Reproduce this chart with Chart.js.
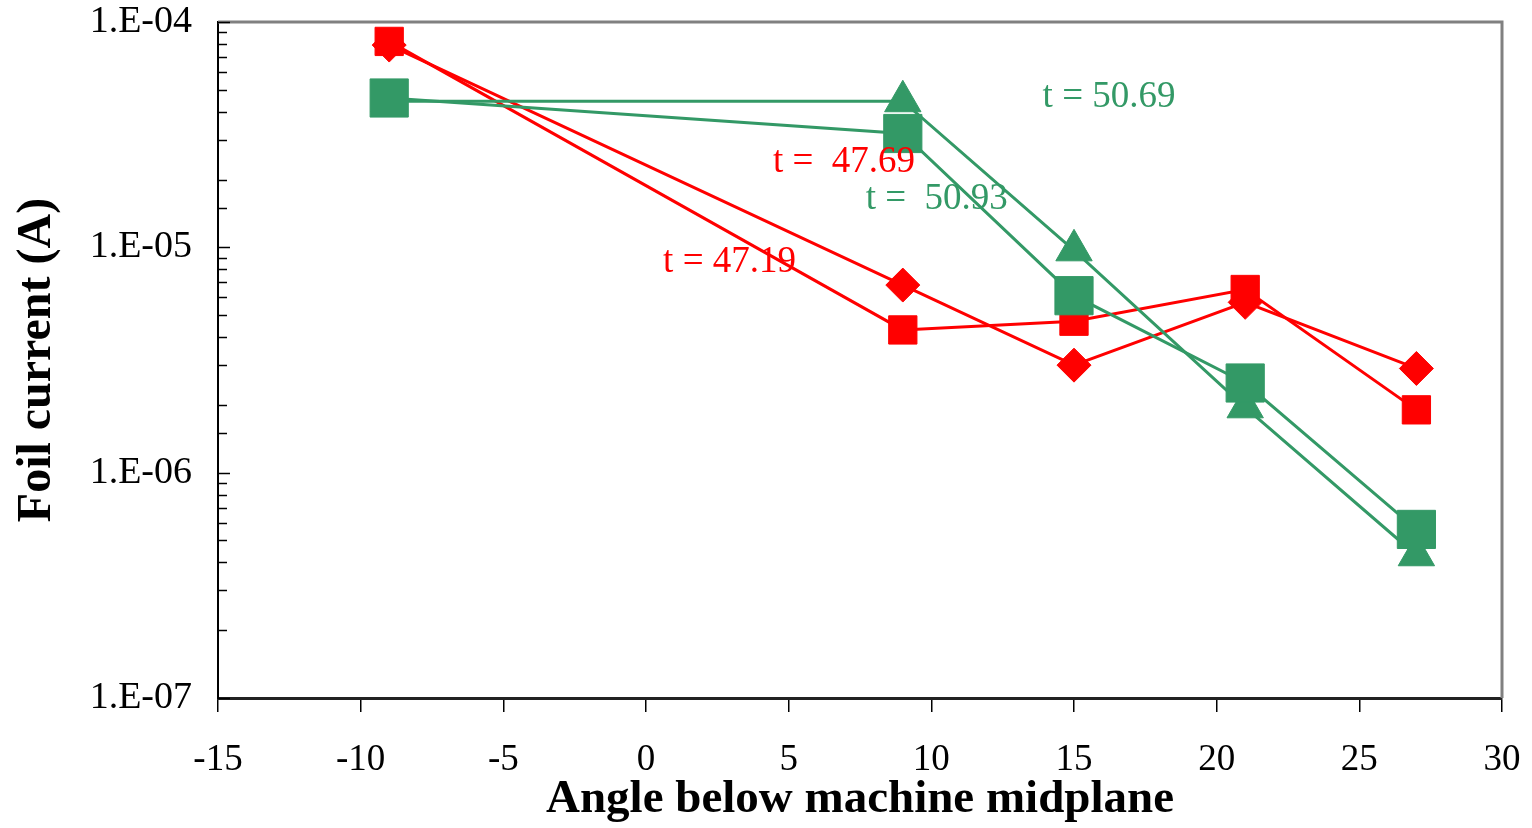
<!DOCTYPE html>
<html>
<head>
<meta charset="utf-8">
<title>Foil current vs angle</title>
<script src="https://cdn.jsdelivr.net/npm/chart.js@4.4.1/dist/chart.umd.min.js"></script>
<style>
  body { margin: 0; background: #fff; }
  #foilChart { display: block; }
</style>
</head>
<body>
<canvas id="foilChart" width="1532" height="828"></canvas>
<script>
  // angle below machine midplane (deg), same for every time slice
  const angles = [-9, 9, 15, 21, 27];

  // foil current (A) at each time slice
  const foil4719 = [7.9e-5, 6.8e-6, 3.0e-6, 5.7e-6, 2.9e-6];
  const foil4769 = [8.2e-5, 4.3e-6, 4.7e-6, 6.5e-6, 1.9e-6];
  const foil5069 = [4.45e-5, 4.45e-5, 9.7e-6, 1.95e-6, 4.3e-7];
  const foil5093 = [4.6e-5, 3.2e-5, 6.1e-6, 2.5e-6, 5.6e-7];

  // labelled decades on the current axis
  const decadeTicks = [1e-7, 1e-6, 1e-5, 1e-4];
  const decadeLabels = ['1.E-07', '1.E-06', '1.E-05', '1.E-04'];

  // curve labels, placed in data coordinates
  const tagText = ['t = 47.19', 't =  47.69', 't = 50.69', 't =  50.93'];
  const tagX = [0.6, 4.45, 13.9, 7.7];
  const tagY = [8.6e-6, 2.39e-5, 4.65e-5, 1.64e-5];

  const RED = '#ff0000';
  const GREEN = '#339966';
  const tagColor = [RED, RED, GREEN, GREEN];
  const SERIF = "'Liberation Serif', 'Times New Roman', serif";

  const pts = vals => angles.map((a, i) => ({ x: a, y: vals[i] }));

  const decadeIndex = v => decadeTicks.findIndex(d => Math.abs(Math.log10(v) - Math.log10(d)) < 1e-6);

  // grey frame on top/right, inward tick marks on the log axis, curve labels
  const frame = {
    id: 'frame',
    beforeDatasetsDraw(chart) {
      const { ctx, chartArea: a, scales: { y } } = chart;
      ctx.save();
      ctx.strokeStyle = '#808080';
      ctx.lineWidth = 3;
      ctx.beginPath();
      ctx.moveTo(a.left, a.top);
      ctx.lineTo(a.right, a.top);
      ctx.lineTo(a.right, a.bottom);
      ctx.stroke();

      ctx.strokeStyle = '#000';
      ctx.lineWidth = 1.5;
      y.ticks.forEach(t => {
        const py = Math.round(y.getPixelForValue(t.value)) + 0.5;
        const len = decadeIndex(t.value) >= 0 ? 12 : 9;
        ctx.beginPath();
        ctx.moveTo(a.left, py);
        ctx.lineTo(a.left + len, py);
        ctx.stroke();
      });
      ctx.restore();
    },
    afterDatasetsDraw(chart) {
      const { ctx, scales: { x, y } } = chart;
      ctx.save();
      ctx.font = '37px ' + SERIF;
      ctx.textAlign = 'left';
      ctx.textBaseline = 'middle';
      tagText.forEach((txt, i) => {
        ctx.fillStyle = tagColor[i];
        ctx.fillText(txt, x.getPixelForValue(tagX[i]), y.getPixelForValue(tagY[i]));
      });
      ctx.restore();
    }
  };

  new Chart(document.getElementById('foilChart'), {
    type: 'scatter',
    data: {
      datasets: [
        {
          label: 't = 50.93', data: pts(foil5093), order: 0, showLine: true,
          borderColor: GREEN, borderWidth: 3, backgroundColor: GREEN,
          pointStyle: 'rect', pointRadius: 27, pointBorderWidth: 1
        },
        {
          label: 't = 50.69', data: pts(foil5069), order: 1, showLine: true,
          borderColor: GREEN, borderWidth: 3, backgroundColor: GREEN,
          pointStyle: 'triangle', pointRadius: 21, pointBorderWidth: 1
        },
        {
          label: 't = 47.69', data: pts(foil4769), order: 2, showLine: true,
          borderColor: RED, borderWidth: 3, backgroundColor: RED,
          pointStyle: 'rect', pointRadius: 20, pointBorderWidth: 1
        },
        {
          label: 't = 47.19', data: pts(foil4719), order: 3, showLine: true,
          borderColor: RED, borderWidth: 3, backgroundColor: RED,
          pointStyle: 'rectRot', pointRadius: 17, pointBorderWidth: 1
        }
      ]
    },
    options: {
      responsive: false,
      animation: false,
      // big markers would otherwise enlarge the padding around the plot
      layout: { autoPadding: false, padding: { top: 22, right: 30, left: 0, bottom: 0 } },
      plugins: {
        legend: { display: false },
        tooltip: { enabled: false }
      },
      scales: {
        x: {
          type: 'linear',
          min: -15,
          max: 30,
          ticks: {
            stepSize: 5,
            color: '#000',
            font: { family: SERIF, size: 37 },
            padding: 26
          },
          grid: { drawOnChartArea: false, tickLength: 14, color: '#000', lineWidth: 1.5 },
          border: { color: '#222', width: 3 },
          title: {
            display: true,
            text: 'Angle below machine midplane',
            color: '#000',
            font: { family: SERIF, size: 47, weight: 'bold' },
            padding: { top: 0, bottom: 0 }
          },
          afterFit(s) {
            s.height = 130;
            s.paddingLeft = 0;
            s.paddingRight = 0;
          }
        },
        y: {
          type: 'logarithmic',
          min: 1e-7,
          max: 1e-4,
          ticks: {
            autoSkip: false,
            color: '#000',
            font: { family: SERIF, size: 38 },
            padding: 18,
            callback: v => {
              const k = decadeIndex(v);
              return k >= 0 ? decadeLabels[k] : '';
            }
          },
          grid: { display: false },
          border: { color: '#000', width: 2 },
          title: {
            display: true,
            text: 'Foil current (A)',
            color: '#000',
            font: { family: SERIF, size: 48, weight: 'bold' },
            padding: { top: 9, bottom: 0 }
          },
          afterFit(s) {
            s.width = 218;
            s.paddingTop = 0;
            s.paddingBottom = 0;
          }
        }
      }
    },
    plugins: [frame]
  });
</script>
</body>
</html>
